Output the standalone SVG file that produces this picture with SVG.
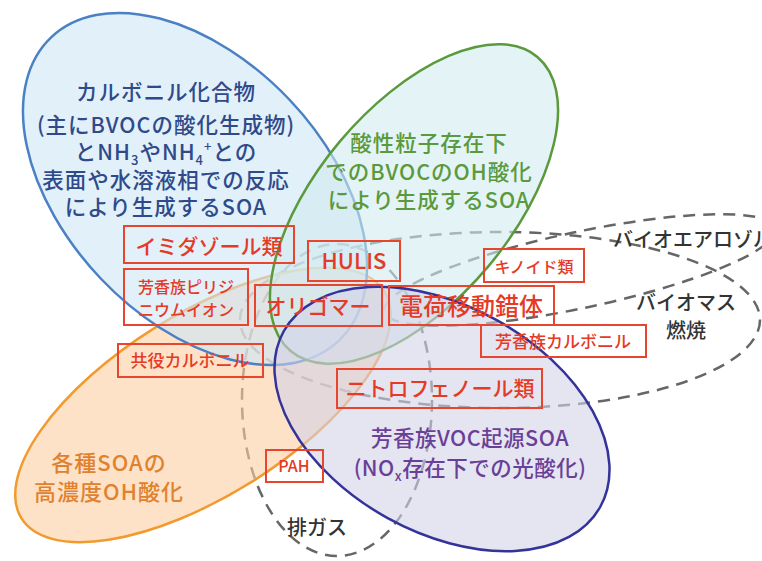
<svg xmlns="http://www.w3.org/2000/svg" width="762" height="561" viewBox="0 0 762 561">
<style>
text{font-family:"Noto Sans CJK JP","Noto Sans",sans-serif;}
.dash{fill:none;stroke:#666;stroke-width:2.5;stroke-dasharray:12 8;}
.box{fill:none;stroke:#e8452f;stroke-width:2;}
.rt{fill:#e53a25;text-anchor:middle;font-weight:500;}
.bt{fill:#2f4a8a;font-size:21.5px;text-anchor:middle;letter-spacing:1px;font-weight:500;}
.gt{fill:#5a9a3c;font-size:21.5px;text-anchor:middle;letter-spacing:1px;font-weight:500;}
.ot{fill:#e0812e;font-size:22px;text-anchor:middle;letter-spacing:1px;font-weight:500;}
.pt{fill:#6a3f98;font-size:21.5px;text-anchor:middle;letter-spacing:0.5px;font-weight:500;}
.kt{fill:#333;font-size:20px;text-anchor:middle;font-weight:500;}
</style>
<rect width="762" height="561" fill="#fff"/>
<g id="dashed-groups">
<ellipse id="exhaust-ring" class="dash" cx="337" cy="400" rx="95" ry="156"/>
<ellipse id="biomass-ring" class="dash" cx="500" cy="320" rx="260" ry="88"/>
<ellipse id="bioaerosol-ring" class="dash" cx="580" cy="270" rx="200" ry="38" transform="rotate(-12 580 270)"/>
</g>
<g id="orange-soa">
<ellipse cx="203" cy="405" rx="214" ry="91" transform="rotate(-32 203 405)" fill="#fccfa3" fill-opacity="0.6" stroke="#f29a2e" stroke-width="2.5"/>
</g>
<g id="blue-carbonyl">
<ellipse cx="195" cy="189" rx="209" ry="130" transform="rotate(46.5 195 189)" fill="#cfe6f7" fill-opacity="0.6" stroke="#4a80c4" stroke-width="2.5"/>
</g>
<g id="green-acid">
<ellipse cx="414" cy="204" rx="192" ry="97" transform="rotate(-50 414 204)" fill="#d2ebee" fill-opacity="0.6" stroke="#5a9a3c" stroke-width="2.5"/>
</g>
<g id="purple-aromatic">
<ellipse cx="442" cy="419" rx="181" ry="113" transform="rotate(29 442 419)" fill="#d4d2e8" fill-opacity="0.6" stroke="#33339a" stroke-width="2.5"/>
</g>
<g id="labels-large">
<text class="bt" x="166" y="100">カルボニル化合物</text>
<text class="bt" x="166" y="133">(主にBVOCの酸化生成物)</text>
<text class="bt" x="166" y="160">とNH<tspan dy="5" font-size="13">3</tspan><tspan dy="-5">やNH</tspan><tspan dy="5" font-size="13">4</tspan><tspan dy="-14" font-size="13">+</tspan><tspan dy="9">との</tspan></text>
<text class="bt" x="166" y="188">表面や水溶液相での反応</text>
<text class="bt" x="166" y="215">により生成するSOA</text>
<text class="gt" x="429" y="151">酸性粒子存在下</text>
<text class="gt" x="429" y="180">でのBVOCのOH酸化</text>
<text class="gt" x="429" y="208">により生成するSOA</text>
<text class="ot" x="109" y="471">各種SOAの</text>
<text class="ot" x="109" y="500">高濃度OH酸化</text>
<text class="pt" x="470" y="446">芳香族VOC起源SOA</text>
<text class="pt" x="470" y="476">(NO<tspan dy="5" font-size="13">x</tspan><tspan dy="-5">存在下での光酸化)</tspan></text>
<text class="kt" x="693" y="247">バイオエアロゾル</text>
<text class="kt" x="686" y="310" font-size="21">バイオマス</text>
<text class="kt" x="686" y="338" font-size="21">燃焼</text>
<text class="kt" x="317" y="535" font-size="21">排ガス</text>
</g>
<g id="box-imidazole"><rect class="box" x="124" y="226" width="170" height="37"/><text class="rt" x="209" y="254" font-size="21">イミダゾール類</text></g>
<g id="box-hulis"><rect class="box" x="308" y="241" width="92" height="40"/><text class="rt" x="354" y="269" font-size="22">HULIS</text></g>
<g id="box-pyridinium"><rect class="box" x="124" y="269" width="124" height="56"/><text class="rt" x="186" y="293" font-size="16">芳香族ピリジ</text><text class="rt" x="186" y="316" font-size="16">ニウムイオン</text></g>
<g id="box-oligomer"><rect class="box" x="255" y="285" width="127" height="41"/><text class="rt" x="318" y="314" font-size="21">オリゴマー</text></g>
<g id="box-ctc"><rect class="box" x="389" y="286" width="165" height="39"/><text class="rt" x="471" y="315" font-size="24">電荷移動錯体</text></g>
<g id="box-quinoid"><rect class="box" x="484" y="249" width="100" height="33"/><text class="rt" x="534" y="273" font-size="16">キノイド類</text></g>
<g id="box-arom-carbonyl"><rect class="box" x="481" y="325" width="165" height="32"/><text class="rt" x="563" y="348" font-size="17">芳香族カルボニル</text></g>
<g id="box-conj-carbonyl"><rect class="box" x="118" y="344" width="145" height="33"/><text class="rt" x="190" y="367" font-size="17">共役カルボニル</text></g>
<g id="box-nitrophenol"><rect class="box" x="337" y="369" width="205" height="39"/><text class="rt" x="440" y="396" font-size="21">ニトロフェノール類</text></g>
<g id="box-pah"><rect class="box" x="266" y="450" width="57" height="32" fill="#fff" fill-opacity="0.8"/><text class="rt" x="294" y="472" font-size="16" font-weight="bold">PAH</text></g>
</svg>
